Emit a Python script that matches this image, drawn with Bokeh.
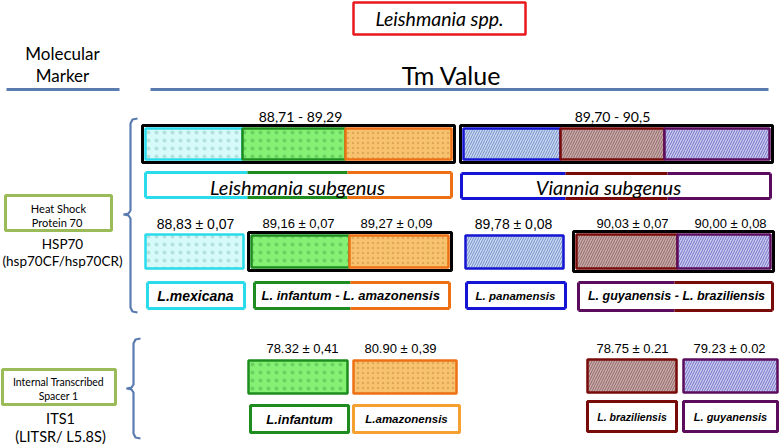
import numpy as np
from bokeh.plotting import figure
from bokeh.models import Range1d, ColumnDataSource
from bokeh.embed import file_html
from bokeh.resources import INLINE
from bokeh.core.properties import value

# ---------------- data ----------------
title_text = "Leishmania spp."
header_left = ["Molecular", "Marker"]
header_right = "Tm Value"
subgenus_names = ["Leishmania subgenus", "Viannia subgenus"]
subgenus_tm_range = ["88,71 - 89,29", "89,70 - 90,5"]
subgenus_members = [["mexicana", "infantum", "amazonensis"],
                    ["panamensis", "braziliensis", "guyanensis"]]

hsp70_species = ["mexicana", "infantum", "amazonensis", "panamensis", "braziliensis", "guyanensis"]
hsp70_tm_mean = [88.83, 89.16, 89.27, 89.78, 90.03, 90.00]
hsp70_tm_sd = [0.07, 0.07, 0.09, 0.08, 0.07, 0.08]
hsp70_group_labels = ["L.mexicana", "L. infantum  - L. amazonensis",
                      "L. panamensis", "L. guyanensis - L. braziliensis"]
hsp70_group_members = [["mexicana"], ["infantum", "amazonensis"],
                       ["panamensis"], ["guyanensis", "braziliensis"]]

its1_species = ["infantum", "amazonensis", "braziliensis", "guyanensis"]
its1_tm_labels = ["78.32 ± 0,41", "80.90 ± 0,39", "78.75 ± 0.21", "79.23 ± 0.02"]
its1_species_labels = ["L.infantum", "L.amazonensis", "L. braziliensis", "L. guyanensis"]

marker_names = [["Heat Shock", "Protein  70"], ["Internal Transcribed", "Spacer 1"]]
marker_codes = [["HSP70", "(hsp70CF/hsp70CR)"], ["ITS1", "(LITSR/ L5.8S)"]]

# ---------------- styles ----------------
STYLE = {
    "mexicana":     dict(line="#2ADCEB", fill="#D6FAFA", hatch="dot", hcolor="#B2E2DA", hscale=8),
    "infantum":     dict(line="#1E8C1E", fill="#84F074", hatch="dot", hcolor="#6AD060", hscale=8),
    "amazonensis":  dict(line="#EE7014", fill="#F8C36E", hatch="dot", hcolor="#E0A65A", hscale=5),
    "panamensis":   dict(line="#1414D2", fill="#C6D8F2", hatch="/", hcolor="#7890C8", hscale=5),
    "braziliensis": dict(line="#780A0A", fill="#CAAAAA", hatch="/", hcolor="#8E6A6A", hscale=5),
    "guyanensis":   dict(line="#5C0C5C", fill="#CACAEE", hatch="/", hcolor="#7474CA", hscale=5),
}
ITS_LABEL_LINE = {"amazonensis": "#F5A030"}
CAL = value("Lato")
ARI = value("Liberation Sans")
BLUE = "#5A7BB0"

p = figure(width=780, height=445, output_backend="svg", toolbar_location=None,
           x_range=Range1d(0, 780), y_range=Range1d(445, 0),
           x_axis_type=None, y_axis_type=None, min_border=0,
           background_fill_color="white", border_fill_color="white", outline_line_color=None)
p.grid.visible = False


def box(sp, l, r, t, b, lw=2.5):
    s = STYLE[sp]
    p.quad(left=[l], right=[r], top=[t], bottom=[b], fill_color=s["fill"],
           hatch_pattern=s["hatch"], hatch_color=s["hcolor"], hatch_scale=s["hscale"],
           hatch_weight=1, line_color=s["line"], line_width=lw)


def outline(l, r, t, b, color="black", lw=3):
    p.quad(left=[l], right=[r], top=[t], bottom=[b], fill_color=None,
           line_color=color, line_width=lw)


def seg_box(edges, colors, t, b, lw=3):
    p.quad(left=[edges[0]], right=[edges[-1]], top=[t], bottom=[b],
           fill_color="white", line_color=None)
    for i, c in enumerate(colors):
        p.segment(x0=[edges[i], edges[i]], y0=[t, b], x1=[edges[i + 1], edges[i + 1]], y1=[t, b],
                  line_color=c, line_width=lw)
    p.segment(x0=[edges[0]], y0=[t], x1=[edges[0]], y1=[b], line_color=colors[0], line_width=lw)
    p.segment(x0=[edges[-1]], y0=[t], x1=[edges[-1]], y1=[b], line_color=colors[-1], line_width=lw)


def texts(xs, ys, labels, font, size, style="normal", color="black"):
    src = ColumnDataSource(dict(x=xs, y=ys, t=labels))
    p.text(x="x", y="y", text="t", source=src, text_font=font, text_font_size=size,
           text_font_style=style, text_color=color, text_align="center", text_baseline="middle")


def brace(x, y0, y1, ym, color=BLUE):
    xs = [x + 7, x + 2, x, x, x - 2, x - 7, x - 2, x, x, x + 2, x + 7]
    ys = [y0, y0 + 1, y0 + 5, ym - 4, ym - 1, ym, ym + 1, ym + 4, y1 - 5, y1 - 1, y1]
    p.line(xs, ys, line_color=color, line_width=2.2)


# ---------------- header ----------------
p.quad(left=[353], right=[525], top=[2], bottom=[34], fill_color="white",
       line_color="#E8191E", line_width=2.5)
texts([439], [18], [title_text], CAL, "19.5px", "italic")
texts([62, 62], [53, 75], header_left, CAL, "17px")
texts([451], [74], [header_right], CAL, "25px")
p.segment(x0=[6, 150], y0=[89, 89], x1=[119, 768], y1=[89, 89], line_color=BLUE, line_width=3)

# ---------------- HSP70: subgenus bars ----------------
sub_edges = [[145, 242, 345, 451], [463, 560, 664, 769]]
sub_outer = [[142, 454], [460, 772]]
for g in range(2):
    for i, sp in enumerate(subgenus_members[g]):
        box(sp, sub_edges[g][i], sub_edges[g][i + 1], 128, 159)
    outline(sub_outer[g][0], sub_outer[g][1], 125, 162)
texts([300, 612], [116, 116], subgenus_tm_range, CAL, "14px")

sub_label_edges = [[145, 247, 347, 451], [461, 565, 667, 770]]
sub_label_y = [(172, 197), (173, 198)]
for g in range(2):
    seg_box(sub_label_edges[g], [STYLE[s]["line"] for s in subgenus_members[g]], *sub_label_y[g])
texts([297, 608], [186, 186], subgenus_names, CAL, "20px", "italic")

# ---------------- HSP70: species bars ----------------
sp_box = {
    "mexicana": (145, 243, 234, 268),
    "infantum": (251, 349, 235, 267),
    "amazonensis": (349, 448, 235, 267),
    "panamensis": (465, 563, 235, 268),
    "braziliensis": (576, 677, 234, 268),
    "guyanensis": (677, 770, 234, 268),
}
for sp in hsp70_species:
    box(sp, *sp_box[sp])
outline(248, 451, 232, 270)
outline(573, 773, 231, 271)

hsp_lab = [f"{m:.2f} ± {s:.2f}".replace(".", ",") for m, s in zip(hsp70_tm_mean, hsp70_tm_sd)]
hsp_x = [195, 298, 396, 513, 632, 730]
hsp_size = ["14px", "13px", "13px", "14px", "13px", "13px"]
for x, lab, sz in zip(hsp_x, hsp_lab, hsp_size):
    texts([x], [223], [lab], ARI, sz)

grp_edges = [[147, 244], [254, 350, 449], [466, 565], [578, 674, 772]]
grp_y = [(282, 308), (282, 308), (282, 308), (282, 310)]
grp_x = [195, 352, 515, 676]
grp_size = ["14px", "13px", "11.5px", "12.5px"]
for g in range(4):
    seg_box(grp_edges[g], [STYLE[s]["line"] for s in hsp70_group_members[g]], *grp_y[g])
    texts([grp_x[g]], [295], [hsp70_group_labels[g]], ARI, grp_size[g], "bold italic")

# ---------------- ITS1 ----------------
its_box = [(248, 347, 360, 393), (353, 456, 360, 393), (587, 676, 359, 392), (683, 777, 359, 392)]
its_lbox = [(250, 348, 405, 432), (353, 459, 405, 432), (587, 676, 401, 431), (683, 777, 401, 431)]
its_vx = [302, 400, 632, 729]
its_size = ["13px", "11.5px", "10.5px", "11px"]
for i, sp in enumerate(its1_species):
    box(sp, *its_box[i])
    l, r, t, b = its_lbox[i]
    p.quad(left=[l], right=[r], top=[t], bottom=[b], fill_color="white",
           line_color=ITS_LABEL_LINE.get(sp, STYLE[sp]["line"]), line_width=3)
    texts([(l + r) / 2], [(t + b) / 2], [its1_species_labels[i]], ARI, its_size[i], "bold italic")
    texts([its_vx[i]], [348], [its1_tm_labels[i]], ARI, "13px")

# ---------------- marker names ----------------
p.quad(left=[5, 2], right=[111, 115], top=[195, 369], bottom=[230, 404], fill_color="white",
       line_color="#9BBB59", line_width=3)
texts([58, 58], [208, 222], marker_names[0], CAL, "11px")
texts([58, 58], [381, 395], marker_names[1], CAL, "10.5px")
texts([62, 62], [243, 260], marker_codes[0], CAL, "13.5px")
texts([60, 60], [418, 436], marker_codes[1], CAL, "14.5px")

brace(130, 118, 312, 214)
brace(133, 338, 438, 388)

open("out.html", "w").write(file_html(p, INLINE))
